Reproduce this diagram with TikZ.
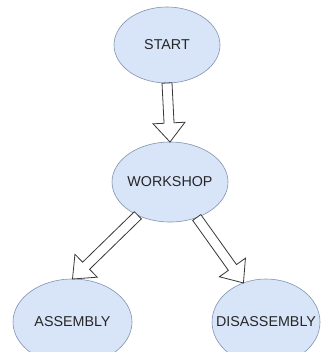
\documentclass[tikz,border=0pt]{standalone}
\usepackage{fontspec}
\setmainfont{Liberation Sans}
\usetikzlibrary{shapes.geometric,calc}

\definecolor{stepfill}{RGB}{216,228,247}
\definecolor{stepline}{RGB}{130,148,176}
\definecolor{arrline}{RGB}{55,55,55}

% hollow block arrow between two anchors
\newcommand{\blockarrow}[2]{%
  \coordinate (hb) at ($(#2)!19pt!(#1)$);
  \filldraw[hollow] ($(#1)!5pt!90:(#2)$) -- ($(hb)!5pt!-90:(#1)$) -- ($(hb)!16pt!-90:(#1)$)
    -- (#2) -- ($(hb)!16pt!90:(#1)$) -- ($(hb)!5pt!90:(#1)$) -- ($(#1)!5pt!-90:(#2)$) -- cycle;}

\begin{document}
\begin{tikzpicture}[x=1pt, y=-1pt,
    stage/.style={ellipse, draw=stepline, fill=stepfill, line width=0.6pt,
      inner xsep=-20pt, inner ysep=0pt, outer sep=0pt, text=black!85,
      font=\fontsize{14.3}{17}\selectfont},
    hollow/.style={draw=arrline, fill=white, line width=0.8pt, line join=miter}]
    \useasboundingbox (0,0) rectangle (320,352);

        \node[stage, minimum width=106pt, minimum height=76pt] (start) at (167,45) {START};
        \node[stage, minimum width=116pt, minimum height=80pt] (workshop) at (170,182) {WORKSHOP};
        \node[stage, minimum width=119pt, minimum height=86pt] (assembly) at (72.5,322) {ASSEMBLY};
        \node[stage, minimum width=108pt, minimum height=86pt] (disassembly) at (266,322) {DISASSEMBLY};

        \blockarrow{start.south}{workshop.north}
        \blockarrow{workshop.-134}{assembly.north}
        \blockarrow{workshop.-53}{disassembly.120}

    \end{tikzpicture}
\end{document}
